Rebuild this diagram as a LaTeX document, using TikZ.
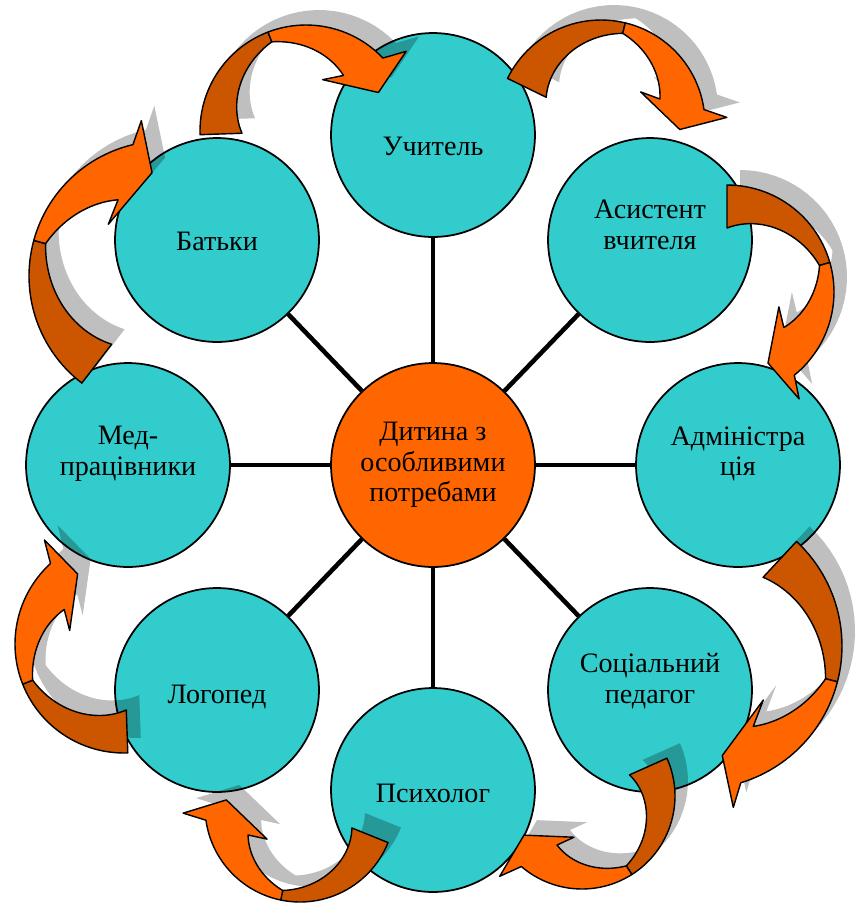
\documentclass[tikz,border=0pt]{standalone}
\usepackage{fontspec}
\setmainfont{Liberation Serif}

\definecolor{aqua}{HTML}{33CCCC}
\definecolor{flame}{HTML}{FF6600}
\definecolor{rust}{HTML}{CC5500}

\tikzset{
  member/.style={circle, draw, line width=1pt, fill=aqua, minimum size=4.08cm, inner sep=0pt},
  hub/.style={member, fill=flame},
  caption/.style={align=center, inner sep=0pt, font=\fontsize{16}{17.5}\selectfont},
  spoke/.style={line width=2.6pt},
  rim/.style={draw, line width=0.8pt, line join=round},
  backshadow/.style={fill=black, opacity=0.25},
}

% curved arrow: centre x, centre y, outer radius, width, tail, twist, notch, head, tip
\newcommand{\twistarrow}[9]{%
  \begin{scope}[shift={(#1,#2)}]
    \fill[backshadow, shift={(13,-15)}]
      plot[domain=#5:#8, variable=\t, samples=30] (\t:#3)
      -- ({#8+5}:{#3+22}) -- (#9:{#3-#4+18}) -- ({#7-16}:{#3-#4-10}) -- (#7:{#3-#4+3})
      -- plot[domain=#7:#6, variable=\t, samples=30] (\t:{#3-0.25*#4-0.75*(#4-4)*(\t-(#6))/((#7)-(#6))})
      -- plot[domain=#6:#5, variable=\t, samples=30] (\t:{#3-#4*(1-0.75*(\t-(#5))/((#6)-(#5)))})
      -- cycle;
    \filldraw[rim, fill=rust]
      plot[domain=#5:#6, variable=\t, samples=30] (\t:#3)
      -- plot[domain=#6:#5, variable=\t, samples=30] (\t:{#3-#4*(1-0.75*(\t-(#5))/((#6)-(#5)))})
      -- cycle;
    \filldraw[rim, fill=flame]
      plot[domain=#6:#8, variable=\t, samples=30] (\t:#3)
      -- ({#8+5}:{#3+22}) -- (#9:{#3-#4+18}) -- ({#7-16}:{#3-#4-10}) -- (#7:{#3-#4+3})
      -- plot[domain=#7:#6, variable=\t, samples=30] (\t:{#3-0.25*#4-0.75*(#4-4)*(\t-(#6))/((#7)-(#6))})
      -- cycle;
  \end{scope}}

\begin{document}
\begin{tikzpicture}[x=0.02cm, y=-0.02cm]
\useasboundingbox (0,0) rectangle (858,904);

\node[hub] (hub) at (433,465) {};
\node[member] (teacher) at (433,135) {};
\node[member] (assistant) at (650,240) {};
\node[member] (admin) at (738,465) {};
\node[member] (social) at (650,690) {};
\node[member] (psych) at (433,790) {};
\node[member] (speech) at (217,690) {};
\node[member] (medic) at (128,465) {};
\node[member] (parents) at (217,240) {};

\node[caption] (hub-t) at (433,465) {Дитина з\\особливими\\потребами};
\node[caption] (teacher-t) at (433,146) {Учитель};
\node[caption] (assistant-t) at (650,225) {Асистент\\вчителя};
\node[caption] (admin-t) at (738,454) {Адміністра\\ція};
\node[caption] (social-t) at (650,681) {Соціальний\\педагог};
\node[caption] (psych-t) at (433,793) {Психолог};
\node[caption] (speech-t) at (217,697) {Логопед};
\node[caption] (medic-t) at (128,454) {Мед-\\працівники};
\node[caption] (parents-t) at (217,241) {Батьки};

\foreach \n in {teacher, assistant, admin, social, psych, speech, medic, parents}
  \draw[spoke] (hub) -- (\n);

% arrows round the ring
\twistarrow{306}{131}{106}{42}{178}{249}{304}{316.5}{332}
\twistarrow{601}{124}{104}{43}{206}{283.5}{337}{352}{364}
\twistarrow{727}{292}{107}{43}{270}{344}{392}{411}{420}
\twistarrow{699}{646}{143}{49}{313}{374.5}{416}{433}{438}
\twistarrow{582}{796}{93}{41}{-24}{57.6}{117}{130.7}{146}
\twistarrow{300}{807}{95}{39}{22}{101.7}{151.7}{172}{185.5}
\twistarrow{124}{644}{109}{43}{88}{158.4}{210}{227.6}{236.5}
\twistarrow{164}{276}{135}{49}{127.5}{195.3}{238.9}{256.7}{263.4}
\end{tikzpicture}
\end{document}
